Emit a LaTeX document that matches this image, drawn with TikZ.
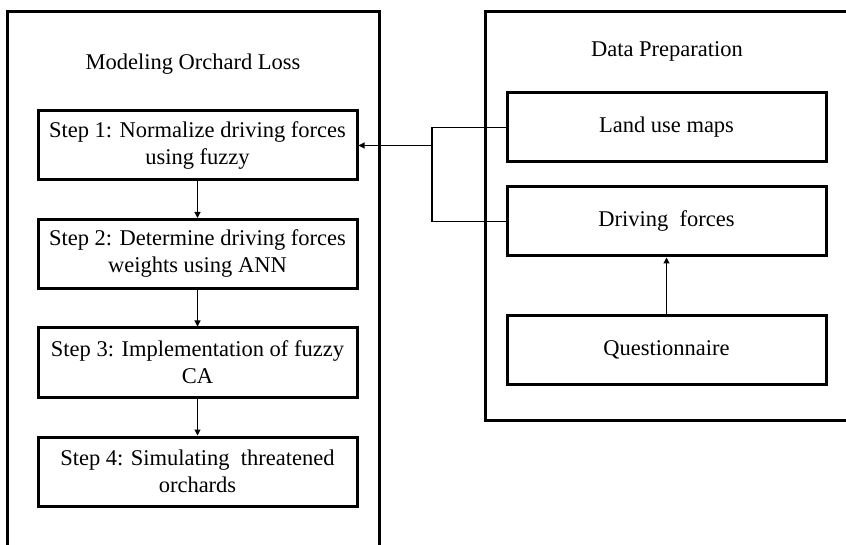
\documentclass[tikz,border=0pt]{standalone}
\usepackage{fontspec}
\setmainfont{Liberation Serif}
\usetikzlibrary{arrows.meta}
\begin{document}
\begin{tikzpicture}[x=1pt,y=-1pt,
  container/.style={draw,line width=3pt,minimum width=#1,inner sep=0pt},
  stepbox/.style={draw,line width=3pt,minimum width=319pt,minimum height=69pt,inner sep=2pt,
    align=center,font=\fontsize{22.5}{27}\selectfont},
  titletext/.style={font=\fontsize{22.5}{27}\selectfont,inner sep=0pt},
  link/.style={line width=1.1pt},
  arrowlink/.style={line width=1.1pt,-{Triangle[length=6pt,width=6pt]}}]
\useasboundingbox (0,0) rectangle (846,545);
\clip (0,0) rectangle (846,545);
% containers
\node[container=372pt,minimum height=560pt] (left) at (193,292) {};
\node[container=380pt,minimum height=408pt] (right) at (675,216) {};
% titles
\node[titletext] (lt) at (193,64) {Modeling Orchard Loss};
\node[titletext] (rt) at (667,51) {Data Preparation};
% steps
\node[stepbox] (s1) at (197.5,145.5) {Step 1: Normalize driving forces\\using fuzzy};
\node[stepbox] (s2) at (197.5,254) {Step 2: Determine driving forces\\weights using ANN};
\node[stepbox] (s3) at (197.5,362.5) {Step 3: Implementation of fuzzy\\CA};
\node[stepbox] (s4) at (197.5,471.5) {Step 4: Simulating\ \ threatened\\orchards};
% data
\node[stepbox] (land) at (666.5,127.5) {Land use maps};
\node[stepbox] (drive) at (666.5,221.5) {Driving\ \ forces};
\node[stepbox] (quest) at (666.5,350) {Questionnaire};
% connectors
\draw[arrowlink] (s1.south) -- (s2.north);
\draw[arrowlink] (s2.south) -- (s3.north);
\draw[arrowlink] (s3.south) -- (s4.north);
\draw[arrowlink] (quest.north) -- (drive.south);
\coordinate (j1) at (432,127.5);
\coordinate (j2) at (432,221.5);
\coordinate (jm) at (432,145.5);
\draw[link] (land.west) -- (j1) -- (j2) -- (drive.west);
\draw[arrowlink] (jm) -- (s1.east);
\end{tikzpicture}
\end{document}
